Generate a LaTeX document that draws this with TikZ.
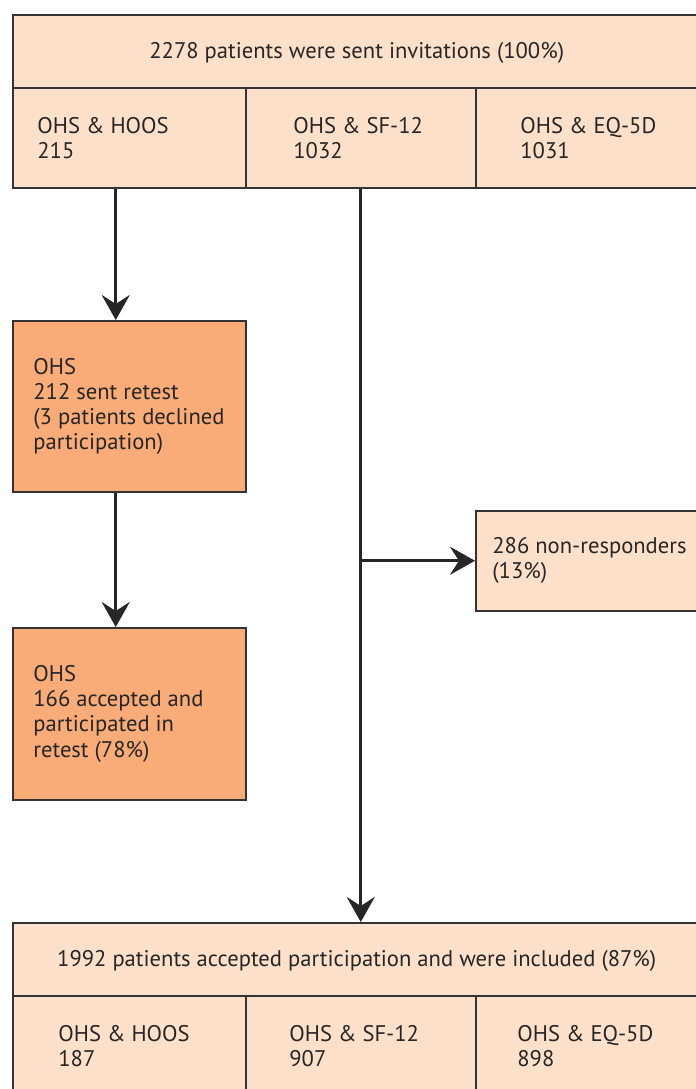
\documentclass[tikz,border=0pt]{standalone}
\usepackage{fontspec}
\setmainfont{PT Sans}
\usetikzlibrary{positioning,arrows.meta}
\definecolor{peach}{HTML}{FDE0C9}
\definecolor{apricot}{HTML}{F9AB78}
\definecolor{edge}{HTML}{333333}

\begin{document}
\begin{tikzpicture}[
  x=0.5pt, y=-0.5pt,
  font=\fontsize{11.3}{12.6}\selectfont,
  cell/.style={draw=edge, line width=0.75pt, fill=peach, inner sep=0pt, anchor=north west},
  head/.style={cell, minimum width=344pt, minimum height=36.5pt, align=center, text=black!85,
               text height=0.7em, text depth=0pt},
  sub/.style={cell, minimum height=50pt},
  retest/.style={cell, fill=apricot, minimum width=116.5pt, minimum height=85.5pt},
  txt/.style={align=left, inner sep=0pt, anchor=west, text=black!85},
  arr/.style={-{Stealth[length=12.5pt, width=14pt, inset=4.5pt]}, line width=1.5pt, draw=black!85},
]
\useasboundingbox (0,0) rectangle (696,1089);

% invitations
\node[head] (inv) at (12,14) {2278 patients were sent invitations (100\%)};
\node[sub, minimum width=116.5pt] (hoos) at (12,87) {};
\node[sub, minimum width=115pt] (sf) at (245,87) {};
\node[sub, minimum width=112.5pt] (eq) at (475,87) {};
\node[txt] (hoosT) at ([xshift=12.5pt]hoos.west) {OHS \& HOOS\\215};
\node[txt] (sfT) at ([xshift=24pt]sf.west) {OHS \& SF-12\\1032};
\node[txt] (eqT) at ([xshift=22.5pt]eq.west) {OHS \& EQ-5D\\1031};

% retest branch
\node[retest] (sent) at (12,320) {};
\node[txt] (sentT) at ([xshift=10.5pt]sent.west) {OHS\\212 sent retest\\(3 patients declined\\participation)};
\node[retest, minimum height=86pt] (took) at (12,627) {};
\node[txt] (tookT) at ([xshift=10.5pt]took.west) {OHS\\166 accepted and\\participated in\\retest (78\%)};

% non-responders
\node[sub, minimum width=112.5pt] (nonresp) at (475,510) {};
\node[txt] (nonrespT) at ([xshift=8.5pt]nonresp.west) {286 non-responders\\(13\%)};

% included
\node[head] (incl) at (12,922) {1992 patients accepted participation and were included (87\%)};
\node[sub, minimum width=116.5pt] (hoos2) at (12,995) {};
\node[sub, minimum width=115pt] (sf2) at (245,995) {};
\node[sub, minimum width=112.5pt] (eq2) at (475,995) {};
\node[txt] (hoos2T) at ([xshift=23pt]hoos2.west) {OHS \& HOOS\\187};
\node[txt] (sf2T) at ([xshift=22pt]sf2.west) {OHS \& SF-12\\907};
\node[txt] (eq2T) at ([xshift=21pt]eq2.west) {OHS \& EQ-5D\\898};

\coordinate (fork) at (sf.south |- nonresp.west);
\draw[arr] ([xshift=-6.75pt]hoos.south) -- ([xshift=-6.75pt]sent.north);
\draw[arr] ([xshift=-6.75pt]sent.south) -- ([xshift=-6.75pt]took.north);
\draw[arr] (sf.south) -- (sf.south |- incl.north);
\draw[arr] (fork) -- (nonresp.west);
\end{tikzpicture}
\end{document}
